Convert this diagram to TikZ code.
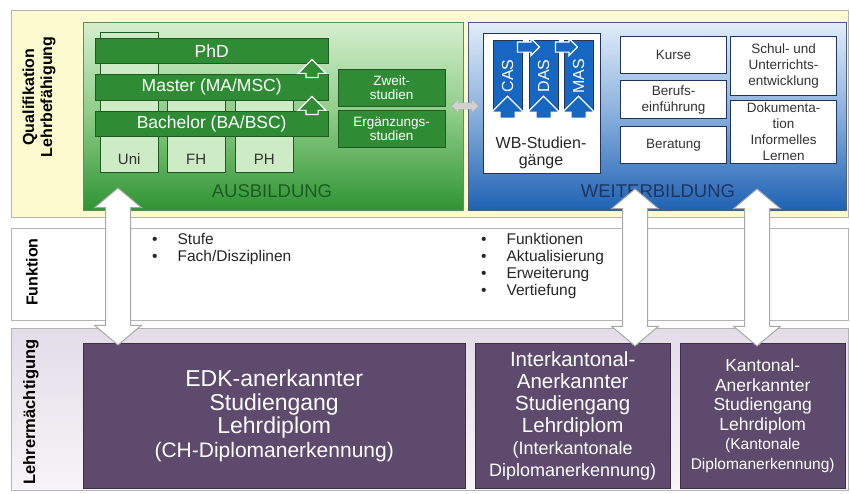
\documentclass[tikz,border=0pt]{standalone}
\usepackage{fontspec}
\setmainfont{Liberation Sans}
\usetikzlibrary{shapes,arrows,positioning,fit,backgrounds,calc}

\definecolor{bandyellow}{HTML}{FBFBCF}
\definecolor{bandgray}{HTML}{B4B4B4}
\definecolor{greentop}{HTML}{D5EFCD}
\definecolor{greenmid}{HTML}{8CCB86}
\definecolor{greenbot}{HTML}{2F9433}
\definecolor{bargreen}{HTML}{2F8C34}
\definecolor{bardark}{HTML}{1E5A22}
\definecolor{collight}{HTML}{CDEBC4}
\definecolor{bluetop}{HTML}{E2EDF8}
\definecolor{bluemid}{HTML}{86AEDC}
\definecolor{bluebot}{HTML}{1F62B3}
\definecolor{casblue}{HTML}{1766C2}
\definecolor{navy}{HTML}{1F3560}
\definecolor{lila}{HTML}{5E4A6C}
\definecolor{liladark}{HTML}{3E2E4C}
\definecolor{bandlila}{HTML}{E2DDE8}
\definecolor{arrowgray}{HTML}{A8A8A8}

\begin{document}
\begin{tikzpicture}[x=1pt, y=-1pt,
    box/.style={anchor=north west, inner sep=0pt, align=center},
    band/.style={box, draw=bandgray, line width=1pt},
    bar/.style={box, draw=bardark, fill=bargreen, text=white, minimum width=233pt, font=\fontsize{17.5}{19}\selectfont},
    col/.style={box, draw=bardark, fill=collight, minimum width=58pt},
    coltext/.style={font=\fontsize{15}{17}\selectfont, text=black!80},
    extra/.style={box, draw=bardark, fill=bargreen, text=white, minimum width=107pt, minimum height=37pt, font=\fontsize{13.5}{14.5}\selectfont},
    wbbox/.style={box, draw=navy, line width=1.2pt, fill=white, minimum width=106pt, font=\fontsize{13.5}{16}\selectfont, text=black!80},
    casbar/.style={draw=navy, fill=casblue, text=white, rotate=90, minimum width=72pt, minimum height=29pt, inner sep=0pt, font=\fontsize{16}{16}\selectfont},
    uparrow/.style={single arrow, draw=white, line width=1.2pt, rotate=90, inner xsep=0pt, inner ysep=5.5pt, minimum height=18pt, single arrow head extend=8pt},
    rightarrow/.style={single arrow, draw=white, line width=1.2pt, fill=casblue, inner xsep=0pt, inner ysep=4.5pt, minimum height=22pt, single arrow head extend=3.5pt},
    diplom/.style={box, draw=liladark, fill=lila, text=white, minimum height=145pt},
    sidelabel/.style={rotate=90, align=center, font=\bfseries\fontsize{16}{18}\selectfont},
    bullets/.style={box, align=left, font=\fontsize{15.5}{17}\selectfont, text=black!85},
    bigarrow/.style={double arrow, draw=arrowgray, line width=1pt, fill=white, rotate=90, inner xsep=0pt, inner ysep=12pt, minimum height=157pt, double arrow head extend=11pt, double arrow tip angle=100}
]
    \useasboundingbox (0,0) rectangle (850,493);

    % bands
    \node[band, fill=bandyellow, minimum width=837pt, minimum height=207pt] (quali) at (11,10) {};
    \node[band, fill=white, minimum width=837pt, minimum height=92pt] (funk) at (11,228) {};
    \node[band, top color=bandlila, bottom color=bandlila!30!white, minimum width=837pt, minimum height=162pt] (lehr) at (11,328) {};

    \node[sidelabel] (qualitxt) at (39,97) {Qualifikation\\Lehrbefähigung};
    \node[sidelabel] (funktxt) at (32,272) {Funktion};
    \node[sidelabel, font=\bfseries\fontsize{16.5}{18}\selectfont] (lehrtxt) at (31,412) {Lehrermächtigung};

    % Ausbildung
    \node[box, draw=bardark!70, top color=greentop, bottom color=greenbot, middle color=greenmid, minimum width=380pt, minimum height=188pt] (aus) at (83,22) {};
    \node[col, minimum height=140pt] (uni) at (100,32) {};
    \node[col, minimum height=96pt] (fh) at (167,76) {};
    \node[col, minimum height=96pt] (ph) at (235,76) {};
    \node[coltext, above=4pt of uni.south] (unitxt) {Uni};
    \node[coltext, above=4pt of fh.south] (fhtxt) {FH};
    \node[coltext, above=4pt of ph.south] (phtxt) {PH};

    \node[bar, minimum height=25pt] (phd) at (95,38) {PhD};
    \node[bar, minimum height=26pt] (master) at (95,74) {Master (MA/MSC)};
    \node[bar, minimum height=25pt] (bachelor) at (95,111) {Bachelor (BA/BSC)};
    \node[uparrow, fill=bargreen] (up1) at (312,71.5) {};
    \node[uparrow, fill=bargreen] (up2) at (312,108.5) {};

    \node[extra] (zweit) at (338,69) {Zweit-\\studien};
    \node[extra] (ergaenz) at (338,110) {Ergänzungs-\\studien};
    \node[font=\fontsize{18.5}{20}\selectfont, text=bardark] (austxt) at (272,191) {AUSBILDUNG};

    % Weiterbildung
    \node[box, draw=navy!80, top color=bluetop, bottom color=bluebot, middle color=bluemid, minimum width=378pt, minimum height=188pt] (weiter) at (468,22) {};
    \node[double arrow, draw=black!30, fill=black!18, inner xsep=0pt, inner ysep=3pt, minimum height=27pt, double arrow head extend=3.5pt] (link) at (465,106) {};

    \node[wbbox, minimum width=117pt, minimum height=140pt] (wb) at (483,33) {};
    \node[font=\fontsize{16}{17}\selectfont, text=black!85, align=center] (wbtxt) at (541,153) {WB-Studien-\\gänge};
    \node[casbar] (cas) at (507.5,76) {CAS};
    \node[casbar] (das) at (543.5,76) {DAS};
    \node[casbar] (mas) at (578.5,76) {MAS};
    \foreach \n in {cas,das,mas}
        \node[uparrow, fill=casblue, minimum height=22pt, inner ysep=7pt, single arrow head extend=8.5pt] (up\n) at ($(\n.center)+(0,35)$) {};
    \node[rightarrow] (casdas) at (526,47) {};
    \node[rightarrow] (dasmas) at (564,47) {};

    \node[wbbox, minimum height=37pt] (kurse) at (620,36) {Kurse};
    \node[wbbox, minimum height=38pt] (berufs) at (620,80) {Berufs-\\einführung};
    \node[wbbox, minimum height=37pt] (beratung) at (620,126) {Beratung};
    \node[wbbox, minimum height=59pt] (schul) at (730,36) {Schul- und\\Unterrichts-\\entwicklung};
    \node[wbbox, minimum height=63pt] (doku) at (730,100) {Dokumenta-\\tion\\Informelles\\Lernen};
    \node[font=\fontsize{18.5}{20}\selectfont, text=navy] (weitertxt) at (658,191) {WEITERBILDUNG};

    % Funktion
    \node[bullets] (ausfunk) at (152,233) {\textbullet\hspace{20pt}Stufe\\\textbullet\hspace{20pt}Fach/Disziplinen};
    \node[bullets] (weiterfunk) at (481,233) {\textbullet\hspace{20pt}Funktionen\\\textbullet\hspace{20pt}Aktualisierung\\\textbullet\hspace{20pt}Erweiterung\\\textbullet\hspace{20pt}Vertiefung};

    % Lehrermaechtigung
    \node[diplom, minimum width=382pt, font=\fontsize{23}{23.5}\selectfont] (edk) at (83,343) {EDK-anerkannter\\Studiengang\\Lehrdiplom\\\fontsize{21}{23}\selectfont (CH-Diplomanerkennung)};
    \node[diplom, minimum width=195pt, font=\fontsize{20.5}{22}\selectfont] (inter) at (475,343) {Interkantonal-\\Anerkannter\\Studiengang\\Lehrdiplom\\\fontsize{18}{20}\selectfont (Interkantonale\\\fontsize{18}{20}\selectfont Diplomanerkennung)};
    \node[diplom, minimum width=165pt, font=\fontsize{17.5}{19.5}\selectfont] (kanton) at (680,343) {Kantonal-\\Anerkannter\\Studiengang\\Lehrdiplom\\\fontsize{15.5}{17.5}\selectfont (Kantonale\\\fontsize{15.5}{17.5}\selectfont Diplomanerkennung)};

    % big arrows
    \node[bigarrow] (arrowaus) at (118,266.5) {};
    \node[bigarrow] (arrowinter) at (635,267.5) {};
    \node[bigarrow] (arrowkanton) at (757,267.5) {};
\end{tikzpicture}
\end{document}
